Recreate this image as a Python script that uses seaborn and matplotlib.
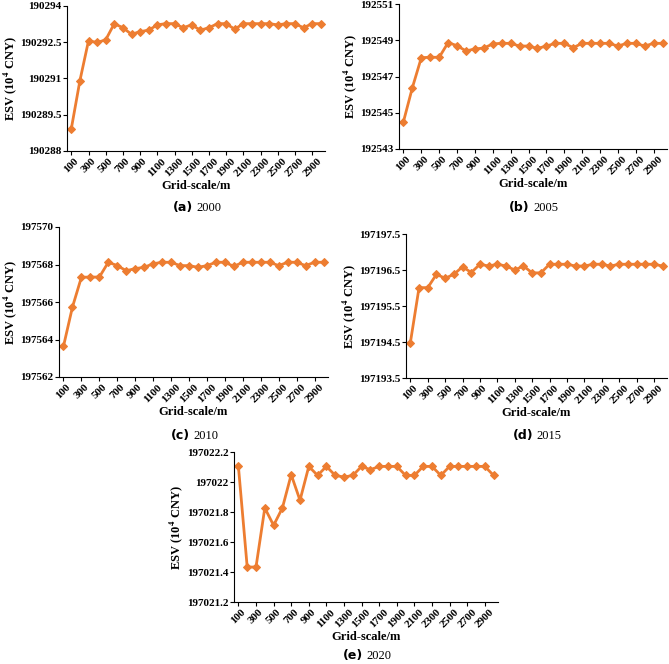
import numpy as np
import pandas as pd
import seaborn as sns
import matplotlib
matplotlib.use("Agg")
import matplotlib.pyplot as plt

grid = list(range(100, 3001, 100))
xticks = list(range(100, 3000, 200))

esv_2000 = [190288.92, 190290.91, 190292.56, 190292.49, 190292.60, 190293.27, 190293.10, 190292.83,
            190292.94, 190293.00, 190293.22, 190293.27, 190293.27, 190293.10, 190293.22, 190293.00,
            190293.10, 190293.27, 190293.27, 190293.04, 190293.27, 190293.27, 190293.27, 190293.27,
            190293.22, 190293.27, 190293.27, 190293.10, 190293.27, 190293.27]
esv_2005 = [192544.51, 192546.39, 192548.04, 192548.06, 192548.06, 192548.87, 192548.70, 192548.41,
            192548.52, 192548.57, 192548.80, 192548.83, 192548.83, 192548.68, 192548.68, 192548.55,
            192548.68, 192548.83, 192548.83, 192548.59, 192548.83, 192548.83, 192548.83, 192548.83,
            192548.68, 192548.83, 192548.83, 192548.68, 192548.83, 192548.83]
esv_2010 = [197563.64, 197565.73, 197567.32, 197567.33, 197567.33, 197568.12, 197567.94, 197567.67,
            197567.78, 197567.85, 197568.04, 197568.12, 197568.12, 197567.94, 197567.94, 197567.85,
            197567.94, 197568.12, 197568.12, 197567.90, 197568.12, 197568.12, 197568.12, 197568.12,
            197567.94, 197568.12, 197568.12, 197567.94, 197568.12, 197568.12]
esv_2015 = [197194.48, 197196.01, 197196.01, 197196.38, 197196.27, 197196.38, 197196.59, 197196.43,
            197196.66, 197196.61, 197196.66, 197196.61, 197196.50, 197196.61, 197196.42, 197196.42,
            197196.66, 197196.66, 197196.66, 197196.61, 197196.61, 197196.66, 197196.66, 197196.61,
            197196.66, 197196.66, 197196.66, 197196.66, 197196.66, 197196.61]
esv_2020 = [197022.104, 197021.433, 197021.433, 197021.827, 197021.711, 197021.827, 197022.049, 197021.878,
            197022.104, 197022.044, 197022.104, 197022.044, 197022.033, 197022.044, 197022.104, 197022.082,
            197022.104, 197022.104, 197022.104, 197022.044, 197022.044, 197022.104, 197022.104, 197022.044,
            197022.104, 197022.104, 197022.104, 197022.104, 197022.104, 197022.044]

panels = [
    ("a", "2000", esv_2000, (190288, 190294, 1.5)),
    ("b", "2005", esv_2005, (192543, 192551, 2)),
    ("c", "2010", esv_2010, (197562, 197570, 2)),
    ("d", "2015", esv_2015, (197193.5, 197197.5, 1)),
    ("e", "2020", esv_2020, (197021.2, 197022.2, 0.2)),
]
W, H = 669, 664
boxes = [
    (67, 6, 325, 151),
    (399, 4, 667, 149),
    (59, 227, 328, 377),
    (406, 234, 667, 378),
    (234, 452, 498, 602),
]
captions_y = [208, 208, 436, 436, 656]

plt.rcParams["font.family"] = "Liberation Serif"
plt.rcParams["mathtext.fontset"] = "stix"
color = "#ED7D31"

fig = plt.figure(figsize=(W / 100, H / 100), dpi=100)

def fmt(v):
    return ("%.4f" % v).rstrip("0").rstrip(".")

for (tag, year, vals, (lo, hi, step)), (l, t, r, b), cy in zip(panels, boxes, captions_y):
    ax = fig.add_axes([l / W, 1 - b / H, (r - l) / W, (b - t) / H])
    df = pd.DataFrame({"grid": grid, "esv": vals})
    sns.lineplot(data=df, x="grid", y="esv", ax=ax, color=color, lw=2,
                 marker="D", markersize=4, markeredgecolor=color)
    ticks = np.arange(lo, hi + step / 2, step)
    ax.set_ylim(lo, hi)
    ax.set_yticks(ticks)
    ax.set_yticklabels([fmt(v) for v in ticks], fontsize=8, fontweight="bold")
    ax.set_xlim(50, 3050)
    ax.set_xticks(xticks)
    ax.set_xticklabels([str(x) for x in xticks], rotation=45, fontsize=8, fontweight="bold")
    ax.set_xlabel("Grid-scale/m", fontsize=9, fontweight="bold", labelpad=1)
    ax.set_ylabel("ESV (10$^{\\mathbf{4}}$ CNY)", fontsize=9, fontweight="bold", labelpad=1)
    for s in ("top", "right"):
        ax.spines[s].set_visible(False)
    ax.tick_params(length=3, pad=1)
    cx = (l + r) / 2 / W
    fig.text(cx - 0.005, 1 - cy / H, f"({tag})", ha="right", va="center",
             fontsize=9, fontweight="bold", family="DejaVu Sans")
    fig.text(cx, 1 - cy / H, year, ha="left", va="center", fontsize=9)

fig.savefig("out.png", dpi=100)
